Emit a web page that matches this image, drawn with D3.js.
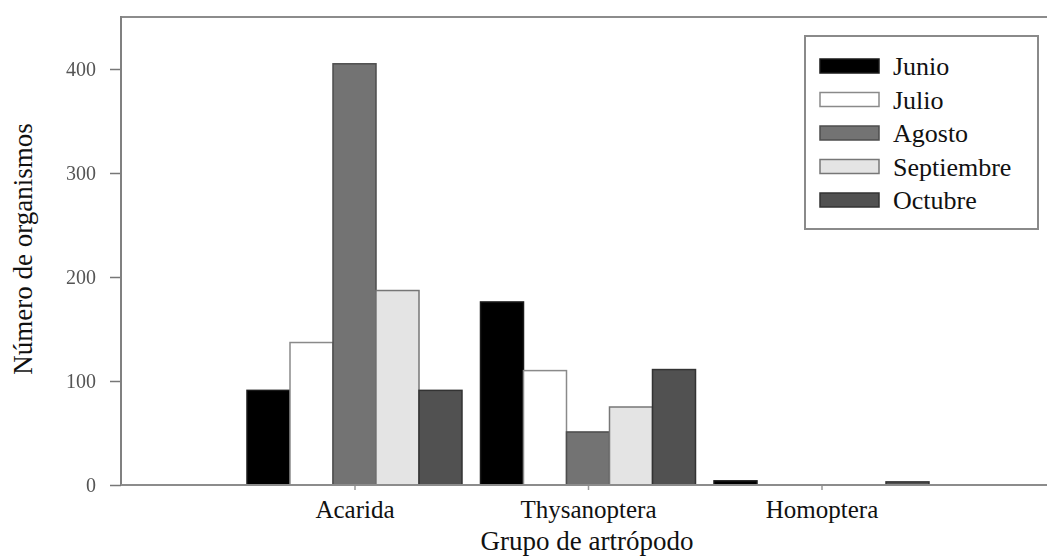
<!DOCTYPE html>
<html>
<head>
<meta charset="utf-8">
<script src="https://cdn.jsdelivr.net/npm/d3@7"></script>
<style>
  html, body { margin: 0; padding: 0; background: #fff; }
  svg { display: block; }
  text { font-family: "Liberation Serif", "Times New Roman", serif; }
</style>
</head>
<body>
<svg id="chart" width="1047" height="559"></svg>
<script>
// ---- data ----
const categories = ["Acarida", "Thysanoptera", "Homoptera"];
const series = ["Junio", "Julio", "Agosto", "Septiembre", "Octubre"];
const junio      = [91, 176, 4];
const julio      = [137, 110, 0];
const agosto     = [405, 51, 0];
const septiembre = [187, 75, 0];
const octubre    = [91, 111, 3];
const yTicks = [0, 100, 200, 300, 400];
const fills = ["#000000", "#ffffff", "#737373", "#e4e4e4", "#515151"];
const strokes = ["#1a1a1a", "#8a8a8a", "#4d4d4d", "#777777", "#333333"];

const values = [junio, julio, agosto, septiembre, octubre];

const svg = d3.select("#chart");
const mLeft = 121, mTop = 17, mBottom = 485, rightEdge = 1047;

// x: category index positions (one empty slot on each side)
const x = d3.scaleLinear().domain([0, 4]).range([121, 1055]);
const inner = d3.scaleBand().domain(series).range([-107.5, 107.5]).padding(0);
const y = d3.scaleLinear().domain([0, 400]).range([mBottom, 69]);

// frame line (top extends to edge)
svg.append("line").attr("x1", mLeft).attr("x2", rightEdge).attr("y1", mTop).attr("y2", mTop)
  .attr("stroke", "#8c8c8c").attr("stroke-width", 2);

// bars
const rows = [];
categories.forEach((c, ci) => {
  series.forEach((s, si) => {
    rows.push({ c, ci, s, si, v: values[si][ci] });
  });
});
svg.append("g").selectAll("rect").data(rows.filter(d => d.v > 0)).join("rect")
  .attr("x", d => x(d.ci + 1) + inner(d.s))
  .attr("width", inner.bandwidth())
  .attr("y", d => y(d.v))
  .attr("height", d => y(0) - y(d.v))
  .attr("fill", d => fills[d.si])
  .attr("stroke", d => strokes[d.si])
  .attr("stroke-width", 1.5);

// y axis
const yAxis = d3.axisLeft(y).tickValues(yTicks).tickSize(11).tickPadding(14).tickFormat(d3.format("d"));
const gy = svg.append("g").attr("transform", `translate(${mLeft},0)`).call(yAxis);
gy.select(".domain").remove();
gy.selectAll(".tick line").attr("stroke", "#777").attr("stroke-width", 1.5);
gy.selectAll(".tick text").attr("fill", "#555").attr("font-size", 20)
  .attr("font-family", "Liberation Serif, serif").style("filter", "blur(0.5px)");
svg.append("line").attr("x1", mLeft).attr("x2", mLeft).attr("y1", mTop - 1).attr("y2", mBottom)
  .attr("stroke", "#808080").attr("stroke-width", 2);

// x axis
const xAxis = d3.axisBottom(x).tickValues([1, 2, 3]).tickSize(5).tickPadding(10)
  .tickFormat(i => categories[i - 1]);
const gx = svg.append("g").attr("transform", `translate(0,${mBottom})`).call(xAxis);
gx.select(".domain").remove();
gx.selectAll(".tick line").attr("stroke", "#999").attr("stroke-width", 1.5);
gx.selectAll(".tick text").attr("fill", "#111").attr("font-size", 25)
  .attr("font-family", "Liberation Serif, serif");
svg.append("line").attr("x1", mLeft).attr("x2", rightEdge).attr("y1", mBottom).attr("y2", mBottom)
  .attr("stroke", "#8c8c8c").attr("stroke-width", 2);

// axis titles
svg.append("text").attr("x", 587).attr("y", 550)
  .attr("text-anchor", "middle").attr("font-size", 27).attr("fill", "#111")
  .text("Grupo de artrópodo");
svg.append("text").attr("transform", "translate(32,249) rotate(-90)")
  .attr("text-anchor", "middle").attr("font-size", 27).attr("fill", "#111")
  .text("Número de organismos");

// legend
const lg = svg.append("g");
lg.append("rect").attr("x", 805).attr("y", 36).attr("width", 233).attr("height", 193)
  .attr("fill", "#fff").attr("stroke", "#8a8a8a").attr("stroke-width", 2);
const ly = d3.scalePoint().domain(series).range([66, 200]);
series.forEach((s, i) => {
  lg.append("rect").attr("x", 820).attr("y", ly(s) - 7).attr("width", 59).attr("height", 14)
    .attr("fill", fills[i]).attr("stroke", strokes[i]).attr("stroke-width", 1.5);
  lg.append("text").attr("x", 893).attr("y", ly(s)).attr("dy", "0.35em")
    .attr("font-size", 26).attr("fill", "#111").text(s);
});
</script>
</body>
</html>
